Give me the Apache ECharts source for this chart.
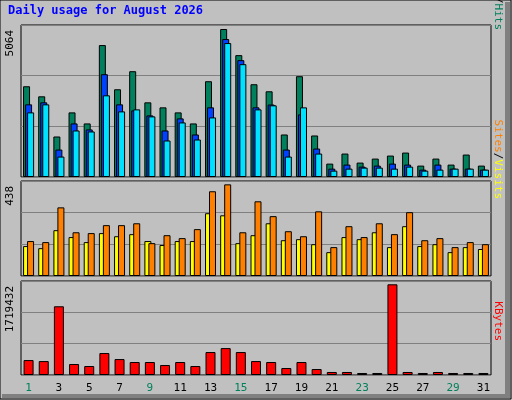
<!DOCTYPE html><html><head><meta charset="utf-8">
<script src="https://cdn.jsdelivr.net/npm/echarts@6/dist/echarts.min.js"></script>
<style>html,body{margin:0;padding:0;background:#c0c0c0}#c{width:512px;height:400px}</style></head><body><div id="c"></div><script>
const days=['1','2','3','4','5','6','7','8','9','10','11','12','13','14','15','16','17','18','19','20','21','22','23','24','25','26','27','28','29','30','31'];
const weekend=['1','2','8','9','15','16','22','23','29','30'];
const hits=[3105,2761,1386,2211,1833,4514,3002,3620,2555,2383,2211,1833,3277,5064,4170,3174,2933,1455,3449,1421,458,802,493,630,733,836,390,630,424,768,390];
const files=[2486,2555,939,1833,1627,3517,2486,2280,2108,1592,2005,1455,2383,4720,3998,2383,2480,939,2142,974,286,424,355,390,458,424,252,424,286,286,252];
const pages=[2211,2486,699,1592,1558,2795,2245,2314,2074,1249,1867,1283,2039,4583,3861,2314,2452,699,2383,802,218,286,321,321,286,355,218,252,286,286,252];
const sites=[143,133,219,186,162,205,190,200,167,148,167,167,300,290,157,195,252,171,176,152,114,186,176,209,138,238,143,152,114,138,129];
const visits=[167,162,328,209,205,243,243,252,157,195,181,224,405,438,209,357,286,214,190,309,138,238,186,252,200,305,171,181,138,162,152];
const kbytes=[283000,264000,1303000,208000,170000,416000,302000,246000,246000,189000,246000,170000,435000,510000,435000,264000,246000,132000,246000,113000,57000,57000,38000,38000,1719432,57000,38000,57000,38000,38000,38000];
const maxLabels=['5064','438','1719432'];
const ch=echarts.init(document.getElementById('c'));
const F='DejaVu Sans Mono';
const grids=[{left:21,width:470,top:25,height:152},{left:21,width:470,top:181,height:95},{left:21,width:470,top:281,height:94}];
const maxes=[5201,454,1782416];
const xA=grids.map((g,i)=>({type:'category',gridIndex:i,data:days,axisTick:{show:false},axisLine:{show:false},
 axisLabel:i<2?{show:false}:{fontFamily:F,fontSize:11,margin:8,color:v=>weekend.includes(v)?'#00805c':'#000'}}));
const yA=grids.map((g,i)=>({type:'value',gridIndex:i,min:0,max:maxes[i],interval:maxes[i]/3,axisLabel:{show:false},axisLine:{show:false},axisTick:{show:false},splitLine:{lineStyle:{color:'#808080',width:1}}}));
const bs=(name,data,color,gi,w,gap)=>({type:'bar',name,data,xAxisIndex:gi,yAxisIndex:gi,barWidth:w,barGap:gap,itemStyle:{color,borderColor:'#000',borderWidth:1},animation:false});
ch.setOption({backgroundColor:'#c0c0c0',animation:false,
 grid:grids.map(g=>Object.assign({show:true,backgroundColor:'#c0c0c0',borderColor:'#000',borderWidth:1},g)),
 xAxis:xA,yAxis:yA,
 series:[bs('Hits',hits,'#00805c',0,7,'-71%'),bs('Files',files,'#0040ff',0,7,'-71%'),bs('Pages',pages,'#00e0ff',0,7,'-71%'),
  bs('Sites',sites,'#ffff00',1,7,'-43%'),bs('Visits',visits,'#ff8000',1,7,'-43%'),bs('KBytes',kbytes,'#ff0000',2,10,'0%')],
 graphic:[
  {type:'rect',shape:{x:0,y:0,width:511,height:399},style:{fill:'none',stroke:'#000',lineWidth:1}},
  {type:'rect',shape:{x:505,y:2,width:5,height:396},style:{fill:'#808080'}},
  {type:'rect',shape:{x:2,y:394,width:508,height:4},style:{fill:'#808080'}},
  {type:'text',left:8,top:5,style:{text:'Daily usage for August 2026',font:'bold 12px '+F,fill:'#0000ff'}},
  {type:'text',x:10,y:30,rotation:Math.PI/2,style:{text:maxLabels[0],font:'11px '+F,fill:'#000',align:'right',verticalAlign:'middle'}},
  {type:'text',x:10,y:186,rotation:Math.PI/2,style:{text:maxLabels[1],font:'11px '+F,fill:'#000',align:'right',verticalAlign:'middle'}},
  {type:'text',x:10,y:286,rotation:Math.PI/2,style:{text:maxLabels[2],font:'11px '+F,fill:'#000',align:'right',verticalAlign:'middle'}},
  {type:'text',x:498,y:30,rotation:-Math.PI/2,style:{text:'{a|Pages}{s|/}{b|Files}{s|/}{c|Hits}',font:'11px '+F,align:'right',verticalAlign:'middle',rich:{a:{fill:'#00e0ff',font:'11px '+F},b:{fill:'#0040ff',font:'11px '+F},c:{fill:'#00805c',font:'11px '+F},s:{fill:'#000',font:'11px '+F}}}},
  {type:'text',x:498,y:199,rotation:-Math.PI/2,style:{text:'{a|Sites}{s|/}{b|Visits}',font:'11px '+F,align:'right',verticalAlign:'middle',rich:{a:{fill:'#ff8000',font:'11px '+F},b:{fill:'#ffff00',font:'11px '+F},s:{fill:'#000',font:'11px '+F}}}},
  {type:'text',x:498,y:341,rotation:-Math.PI/2,style:{text:'KBytes',font:'11px '+F,fill:'#ff0000',align:'right',verticalAlign:'middle'}}
 ]});
</script></body></html>
